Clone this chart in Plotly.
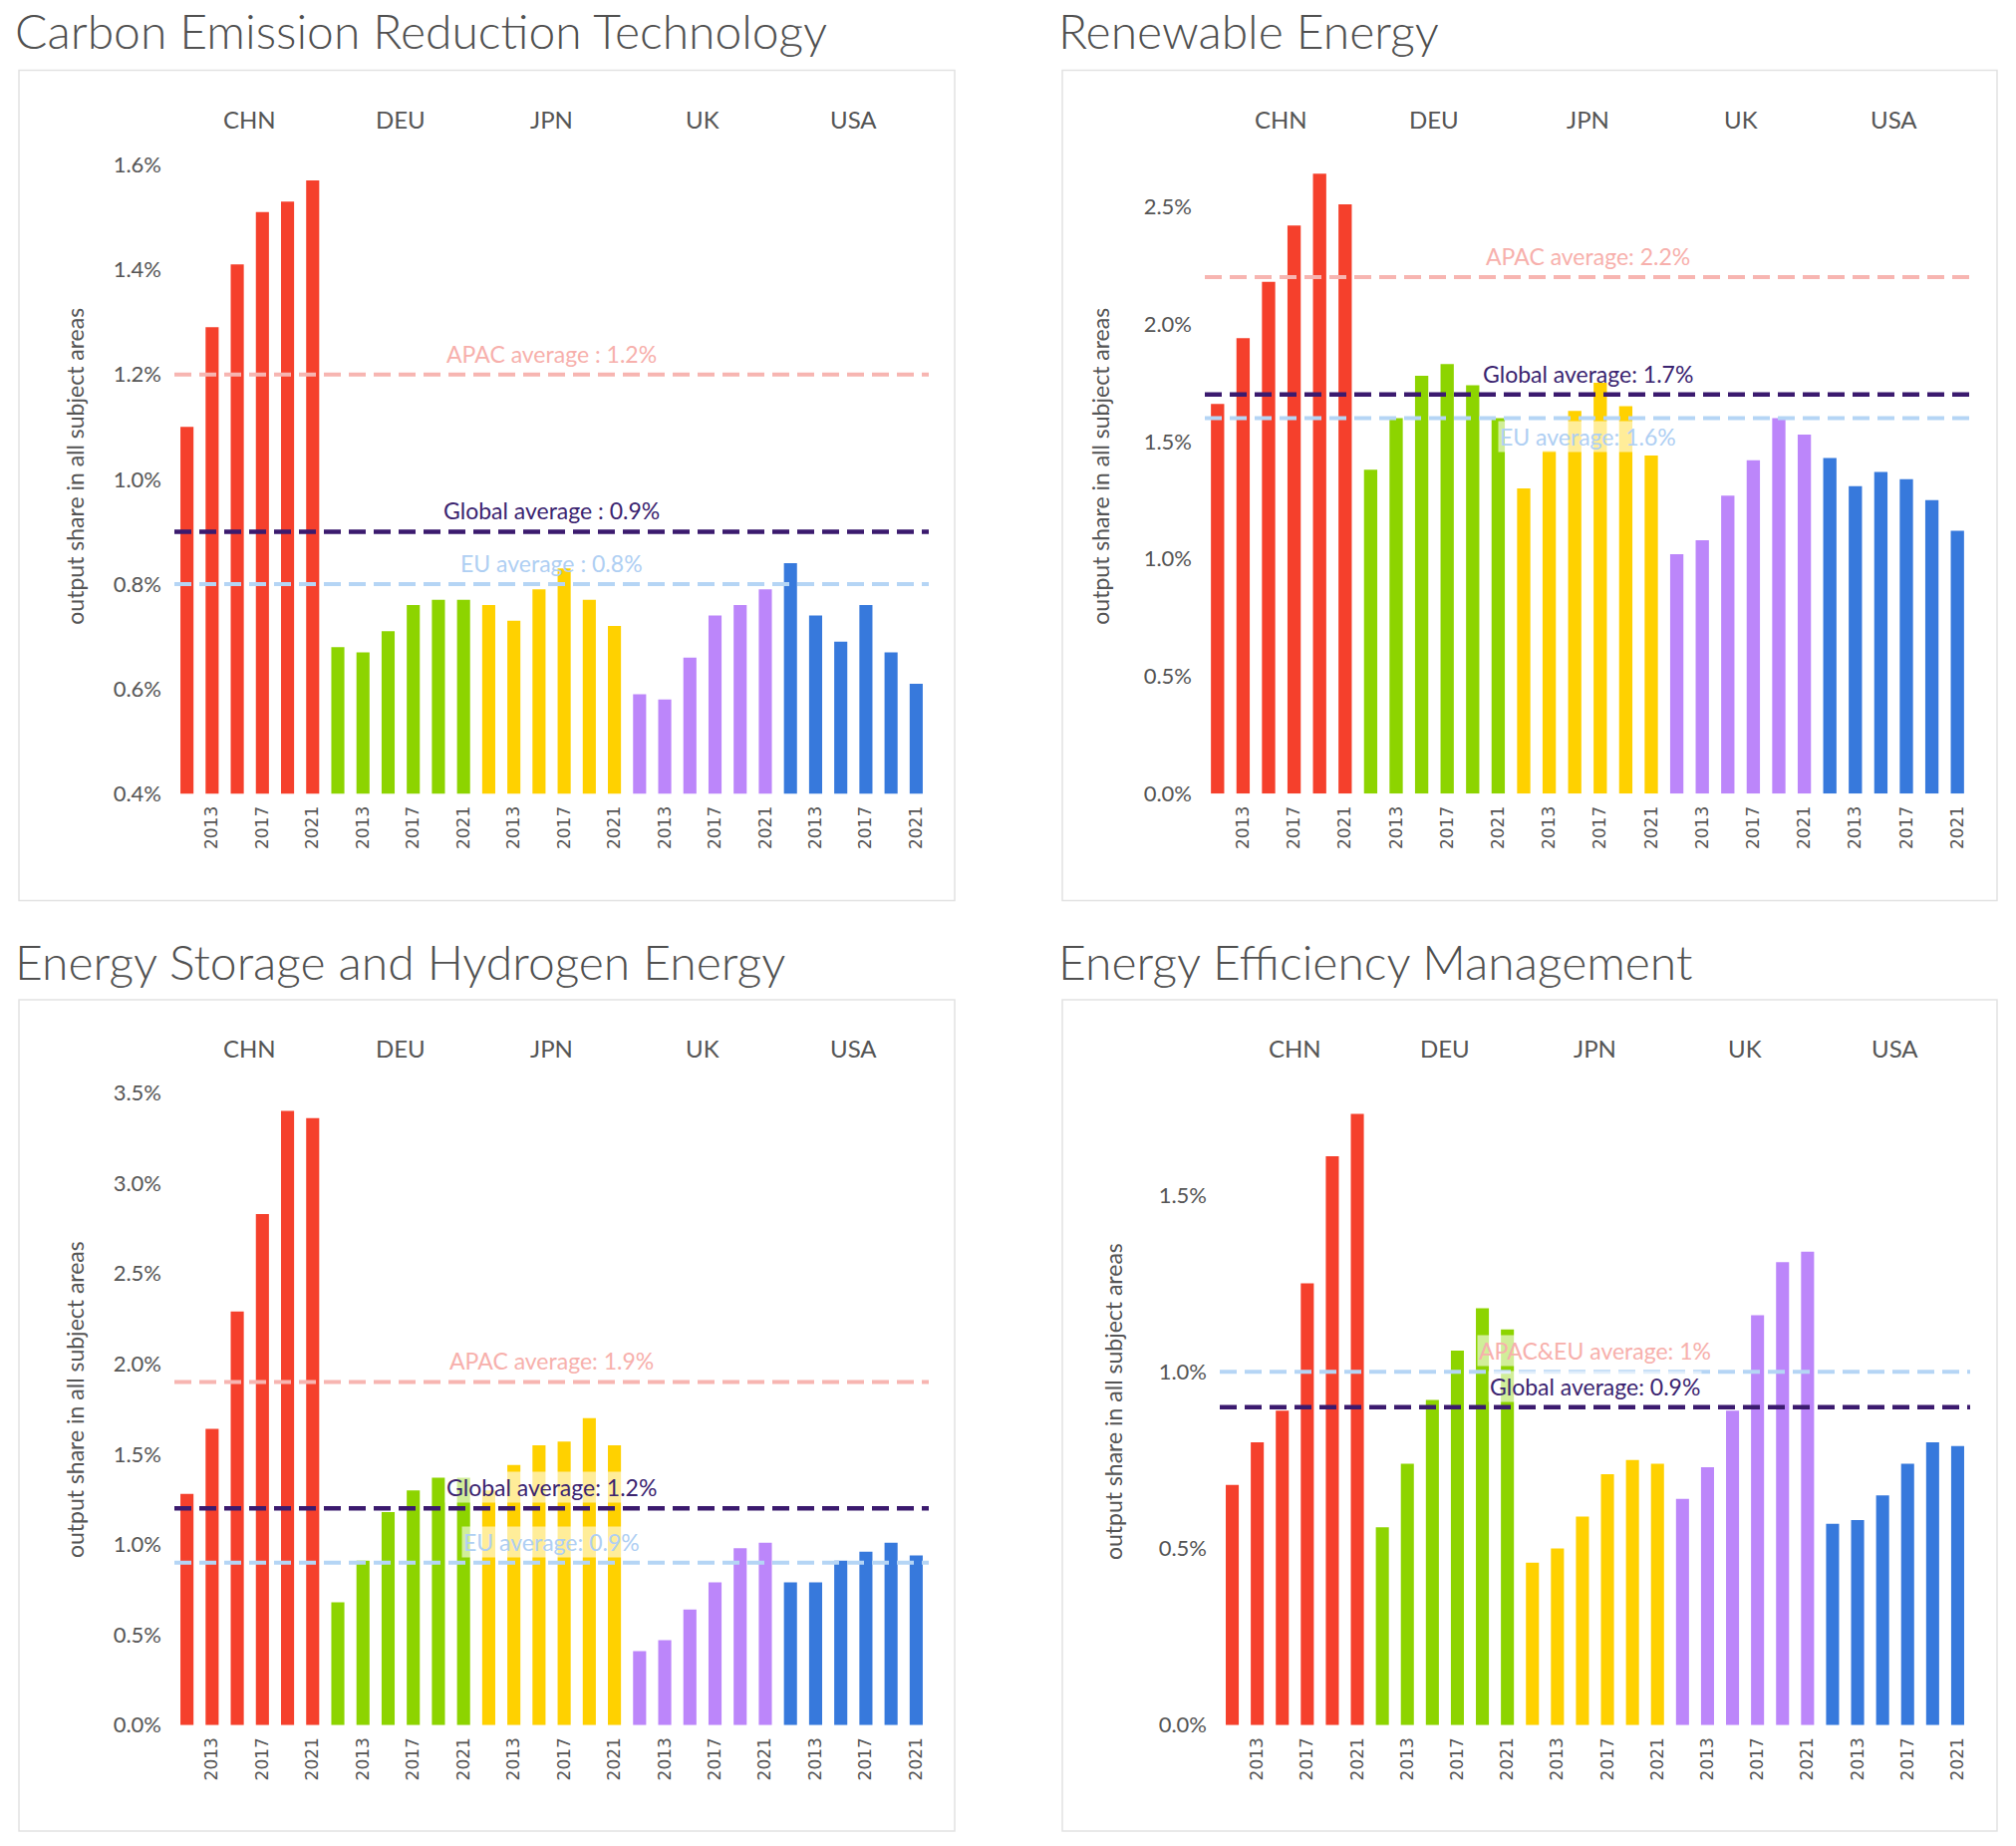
import plotly.graph_objects as go

W, H = 2023, 1852

# ---- data -------------------------------------------------------------
countries = ["CHN", "DEU", "JPN", "UK", "USA"]
years = [2011, 2013, 2015, 2017, 2019, 2021]
labelled_years = [2013, 2017, 2021]
country_colors = ["#F5402C", "#8DD400", "#FFD100", "#BC86FA", "#3779DC"]

carbon = {
    "CHN": [1.10, 1.29, 1.41, 1.51, 1.53, 1.57],
    "DEU": [0.68, 0.67, 0.71, 0.76, 0.77, 0.77],
    "JPN": [0.76, 0.73, 0.79, 0.83, 0.77, 0.72],
    "UK": [0.59, 0.58, 0.66, 0.74, 0.76, 0.79],
    "USA": [0.84, 0.74, 0.69, 0.76, 0.67, 0.61],
}
renewable = {
    "CHN": [1.66, 1.94, 2.18, 2.42, 2.64, 2.51],
    "DEU": [1.38, 1.60, 1.78, 1.83, 1.74, 1.60],
    "JPN": [1.30, 1.46, 1.63, 1.75, 1.65, 1.44],
    "UK": [1.02, 1.08, 1.27, 1.42, 1.60, 1.53],
    "USA": [1.43, 1.31, 1.37, 1.34, 1.25, 1.12],
}
storage = {
    "CHN": [1.28, 1.64, 2.29, 2.83, 3.40, 3.36],
    "DEU": [0.68, 0.91, 1.18, 1.30, 1.37, 1.37],
    "JPN": [1.30, 1.44, 1.55, 1.57, 1.70, 1.55],
    "UK": [0.41, 0.47, 0.64, 0.79, 0.98, 1.01],
    "USA": [0.79, 0.79, 0.91, 0.96, 1.01, 0.94],
}
efficiency = {
    "CHN": [0.68, 0.80, 0.89, 1.25, 1.61, 1.73],
    "DEU": [0.56, 0.74, 0.92, 1.06, 1.18, 1.12],
    "JPN": [0.46, 0.50, 0.59, 0.71, 0.75, 0.74],
    "UK": [0.64, 0.73, 0.89, 1.16, 1.31, 1.34],
    "USA": [0.57, 0.58, 0.65, 0.74, 0.80, 0.79],
}

# (label, value, kind)
carbon_avg = [("APAC average : 1.2%", 1.2, "apac"),
              ("Global average : 0.9%", 0.9, "global"),
              ("EU average : 0.8%", 0.8, "eu")]
renewable_avg = [("APAC average: 2.2%", 2.2, "apac"),
                 ("Global average: 1.7%", 1.7, "global"),
                 ("EU average: 1.6%", 1.6, "eu")]
storage_avg = [("APAC average: 1.9%", 1.9, "apac"),
               ("Global average: 1.2%", 1.2, "global"),
               ("EU average: 0.9%", 0.9, "eu")]
efficiency_avg = [("APAC&EU average: 1%", 1.0, "apac_eu"),
                  ("Global average: 0.9%", 0.9, "global")]

# ---- styles -----------------------------------------------------------
FONT = "Lato"
GREY = "#555555"
line_style = {
    "apac": dict(line="#F7B5B1", text="#F7B0AC", width=4),
    "global": dict(line="#3B1A6E", text="#3B2470", width=4.5),
    "eu": dict(line="#B5D5F5", text="#AFCFF3", width=4),
    "apac_eu": dict(line="#B5D5F5", text="#F7B0AC", width=4),
}

# pixel geometry of each panel (box, plot area, text anchors)
panels = [
    dict(title="Carbon Emission Reduction Technology", data=carbon, avgs=carbon_avg,
         title_xy=(13, 31), box=(19, 71, 958, 910), plot=(175, 140, 932, 802),
         yrange=[0.4, 1.65], tick0=0.4, dtick=0.2, ytitle_xy=(75, 471),
         below=[], label_bg=[]),
    dict(title="Renewable Energy", data=renewable, avgs=renewable_avg,
         title_xy=(1060, 31), box=(1066, 71, 2004, 910), plot=(1209, 140, 1977, 802),
         yrange=[0, 2.79], tick0=0, dtick=0.5, ytitle_xy=(1104, 471),
         below=["eu"], label_bg=["eu"]),
    dict(title="Energy Storage and Hydrogen Energy", data=storage, avgs=storage_avg,
         title_xy=(13, 971), box=(19, 1010, 958, 1850), plot=(175, 1086, 932, 1743),
         yrange=[0, 3.6], tick0=0, dtick=0.5, ytitle_xy=(75, 1414),
         below=[], label_bg=["global", "eu"]),
    dict(title="Energy Efficiency Management", data=efficiency, avgs=efficiency_avg,
         title_xy=(1060, 971), box=(1066, 1010, 2004, 1850), plot=(1224, 1086, 1977, 1743),
         yrange=[0, 1.84], tick0=0, dtick=0.5, ytitle_xy=(1117, 1416),
         below=[], label_bg=["apac_eu", "global"]),
]


def fx(px):
    return px / W


def fy(py):
    return 1 - py / H


categories = [f"{c} {y}" for c in countries for y in years]
tick_vals = [f"{c} {y}" for c in countries for y in years if y in labelled_years]
tick_text = [str(y) for c in countries for y in years if y in labelled_years]

fig = go.Figure()
shapes = []
annotations = []

for n, p in enumerate(panels, start=1):
    suffix = "" if n == 1 else str(n)
    xa, ya = "x" + suffix, "y" + suffix
    for country, color in zip(countries, country_colors):
        fig.add_trace(go.Bar(
            x=[f"{country} {y}" for y in years], y=p["data"][country],
            marker=dict(color=color, line=dict(width=0)),
            xaxis=xa, yaxis=ya, showlegend=False,
            hovertemplate="%{x}<br>%{y:.2f}%<extra></extra>",
        ))

    x0, y0, x1, y1 = p["plot"]
    fig.layout["xaxis" + suffix] = dict(
        domain=[fx(x0), fx(x1)], anchor=ya, type="category",
        categoryorder="array", categoryarray=categories,
        range=[-0.5, len(categories) - 0.5],
        tickmode="array", tickvals=tick_vals, ticktext=tick_text, tickangle=-90,
        tickfont=dict(family="DejaVu Sans", size=17, color=GREY),
        ticks="", ticklabelstandoff=8,
        showgrid=False, zeroline=False, showline=False,
    )
    fig.layout["yaxis" + suffix] = dict(
        domain=[fy(y1), fy(y0)], anchor=xa, range=p["yrange"],
        tick0=p["tick0"], dtick=p["dtick"], tickformat=".1f", ticksuffix="%",
        tickfont=dict(family=FONT, size=22, color=GREY),
        ticks="", ticklabelstandoff=12,
        showgrid=False, zeroline=False, showline=False,
    )

    bx0, by0, bx1, by1 = p["box"]
    shapes.append(dict(type="rect", xref="paper", yref="paper",
                       x0=fx(bx0), x1=fx(bx1), y0=fy(by1), y1=fy(by0),
                       line=dict(color="#E2E2E2", width=1.5), layer="below"))

    annotations.append(dict(text=p["title"], xref="paper", yref="paper",
                            x=fx(p["title_xy"][0]), y=fy(p["title_xy"][1]),
                            xanchor="left", yanchor="middle", showarrow=False,
                            font=dict(family=FONT, size=48, weight=300, color="#505050")))

    annotations.append(dict(text="output share in all subject areas", textangle=-90,
                            xref="paper", yref="paper",
                            x=fx(p["ytitle_xy"][0]), y=fy(p["ytitle_xy"][1]),
                            xanchor="center", yanchor="middle", showarrow=False,
                            font=dict(family=FONT, size=23, color=GREY)))

    for i, country in enumerate(countries):
        annotations.append(dict(text=country, xref=xa, yref="paper",
                                x=i * len(years) + (len(years) - 1) / 2,
                                y=fy(by0 + 49), yanchor="middle", showarrow=False,
                                font=dict(family=FONT, size=24, color=GREY)))

    for label, value, kind in p["avgs"]:
        st = line_style[kind]
        shapes.append(dict(type="line", xref=xa + " domain", yref=ya,
                           x0=0, x1=1, y0=value, y1=value, layer="above",
                           line=dict(color=st["line"], width=st["width"], dash="17px,8px")))
        ann = dict(text=label, xref=xa + " domain", yref=ya,
                   x=0.5, y=value, yshift=-19 if kind in p["below"] else 21,
                   yanchor="middle", showarrow=False,
                   font=dict(family=FONT, size=23, color=st["text"]))
        if kind in p["label_bg"]:
            ann["bgcolor"] = "rgba(255,255,255,0.6)"
        annotations.append(ann)

fig.update_layout(
    width=W, height=H, margin=dict(l=0, r=0, t=0, b=0),
    paper_bgcolor="white", plot_bgcolor="white",
    bargap=0.48, shapes=shapes, annotations=annotations,
    font=dict(family=FONT, color=GREY),
)

fig.write_html("out.html", config={"displayModeBar": False},
               post_script="document.body.style.margin='0';")
